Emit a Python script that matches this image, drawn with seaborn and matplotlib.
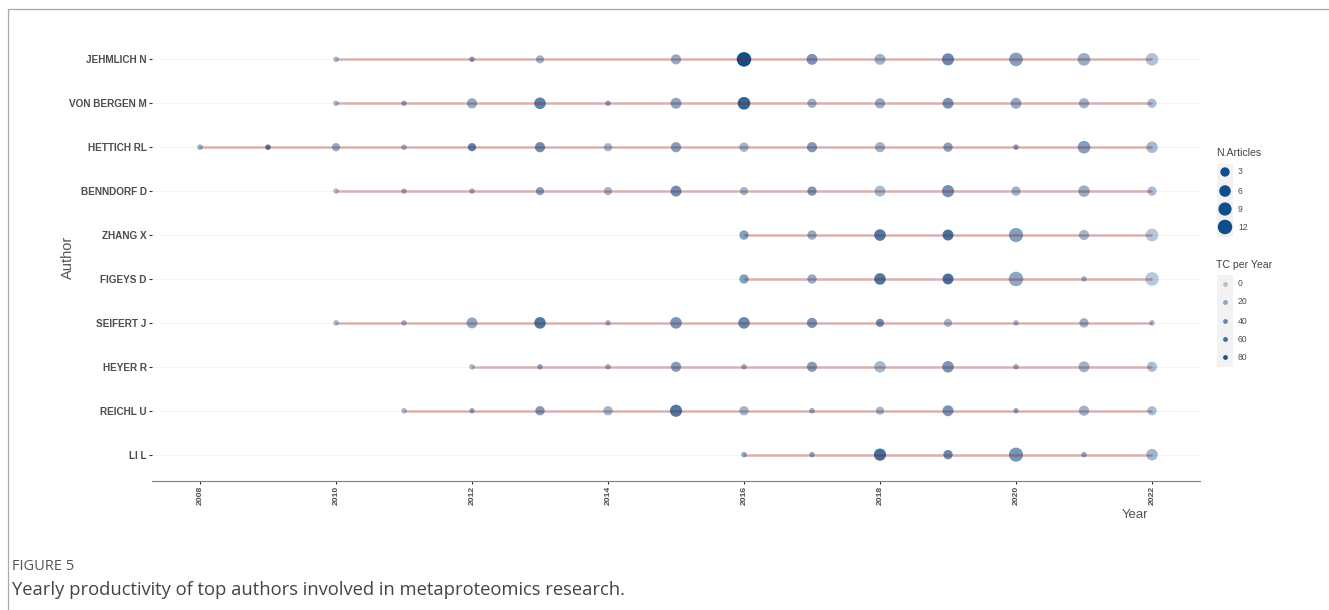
import numpy as np
import pandas as pd
import matplotlib
matplotlib.use("Agg")
import matplotlib.pyplot as plt
from matplotlib.colors import LinearSegmentedColormap, to_rgb
from matplotlib.patches import Rectangle
from matplotlib.lines import Line2D
import seaborn as sns

# ---- data -------------------------------------------------------------
authors = ["JEHMLICH N", "VON BERGEN M", "HETTICH RL", "BENNDORF D", "ZHANG X",
           "FIGEYS D", "SEIFERT J", "HEYER R", "REICHL U", "LI L"]

author_years = [
    [2010, 2012, 2013, 2015, 2016, 2017, 2018, 2019, 2020, 2021, 2022],
    [2010, 2011, 2012, 2013, 2014, 2015, 2016, 2017, 2018, 2019, 2020, 2021, 2022],
    [2008, 2009, 2010, 2011, 2012, 2013, 2014, 2015, 2016, 2017, 2018, 2019, 2020, 2021, 2022],
    [2010, 2011, 2012, 2013, 2014, 2015, 2016, 2017, 2018, 2019, 2020, 2021, 2022],
    [2016, 2017, 2018, 2019, 2020, 2021, 2022],
    [2016, 2017, 2018, 2019, 2020, 2021, 2022],
    [2010, 2011, 2012, 2013, 2014, 2015, 2016, 2017, 2018, 2019, 2020, 2021, 2022],
    [2012, 2013, 2014, 2015, 2016, 2017, 2018, 2019, 2020, 2021, 2022],
    [2011, 2012, 2013, 2014, 2015, 2016, 2017, 2018, 2019, 2020, 2021, 2022],
    [2016, 2017, 2018, 2019, 2020, 2021, 2022],
]

articles = [
    [1, 1, 2, 4, 12, 5, 5, 7, 10, 8, 8],
    [1, 1, 4, 6, 1, 5, 8, 3, 4, 5, 5, 4, 3],
    [1, 1, 2, 1, 2, 4, 2, 4, 3, 4, 4, 3, 1, 8, 6],
    [1, 1, 1, 2, 2, 5, 2, 3, 5, 7, 3, 6, 3],
    [3, 3, 6, 5, 11, 4, 8],
    [3, 3, 6, 5, 12, 1, 10],
    [1, 1, 5, 6, 1, 6, 6, 4, 2, 2, 1, 3, 1],
    [1, 1, 1, 4, 1, 4, 6, 6, 1, 5, 4],
    [1, 1, 3, 3, 7, 3, 1, 2, 5, 1, 4, 3],
    [1, 1, 7, 3, 11, 1, 6],
]

tc_per_year = [
    [12, 25, 15, 20, 85, 35, 15, 42, 28, 18, 4],
    [10, 20, 20, 48, 20, 25, 68, 15, 20, 35, 20, 15, 8],
    [20, 55, 20, 15, 50, 40, 12, 28, 15, 32, 15, 28, 25, 28, 10],
    [8, 15, 15, 28, 12, 40, 12, 32, 10, 38, 15, 18, 8],
    [28, 20, 55, 60, 28, 12, 2],
    [28, 20, 55, 60, 22, 15, 0],
    [12, 15, 22, 55, 15, 35, 42, 35, 40, 12, 12, 18, 12],
    [10, 22, 18, 30, 18, 30, 10, 35, 18, 15, 8],
    [12, 18, 30, 12, 55, 12, 18, 12, 35, 18, 15, 8],
    [25, 22, 62, 42, 35, 20, 12],
]

size_breaks = [3, 6, 9, 12]
tc_breaks = [0, 20, 40, 60, 80]
year_ticks = list(range(2008, 2023, 2))

# ---- tidy table -------------------------------------------------------
rows = []
for i, name in enumerate(authors):
    for yr, n, tc in zip(author_years[i], articles[i], tc_per_year[i]):
        rows.append({"Author": name, "row": i, "Year": yr, "N": n, "TC": tc})
df = pd.DataFrame(rows)

# ---- styling ----------------------------------------------------------
BLUE = "#104E8B"          # dodgerblue4
RED = "#8B1A1A"           # firebrick4
n_min, n_max = df["N"].min(), df["N"].max()
tc_min, tc_max = df["TC"].min(), df["TC"].max()


def marker_area(n):
    """Area-style scaling: diameter grows with sqrt of the rescaled count."""
    t = (n - n_min) / (n_max - n_min)
    size_mm = 2 + 4 * np.sqrt(t)
    d_px = 1.0 + 2.25 * size_mm
    return (d_px * 0.72) ** 2


def tc_alpha(tc):
    return 0.3 + 0.7 * (tc - tc_min) / (tc_max - tc_min)


rgb = to_rgb(BLUE)
alpha_cmap = LinearSegmentedColormap.from_list(
    "tc_alpha", [(*rgb, 0.3), (*rgb, 1.0)])

sns.set_theme(style="white")
plt.rcParams["font.family"] = ["Liberation Sans", "DejaVu Sans"]

W, H = 1329, 610
fig = plt.figure(figsize=(W / 100, H / 100), dpi=100)

# panel in pixel box: x 152..1200, y 33..481
ax = fig.add_axes([152 / W, 1 - 481 / H, 1048 / W, 448 / H])

# light horizontal guides per author
for i in range(len(authors)):
    ax.axhline(i, color="#EDEDED", lw=0.4, zorder=0)

sizes_map = {n: marker_area(n) for n in sorted(df["N"].unique())}
sns.scatterplot(data=df, x="Year", y="row", hue="TC", size="N",
                palette=alpha_cmap, hue_norm=(tc_min, tc_max),
                sizes=sizes_map, linewidth=0, edgecolor="none",
                legend=False, ax=ax, zorder=2)

# active span for each author
for i in range(len(authors)):
    ax.hlines(i, min(author_years[i]), max(author_years[i]),
              color=RED, alpha=0.3, lw=1.9, zorder=3)

ax.set_xlim(2008 - 0.706, 2022 + 0.706)
ax.set_ylim(len(authors) - 0.4, -0.6)
ax.set_yticks(range(len(authors)))
ax.set_yticklabels(authors, fontsize=7.2, fontweight="bold", color="#4D4D4D")
ax.set_xticks(year_ticks)
ax.set_xticklabels([str(y) for y in year_ticks], rotation=90, fontsize=6.1,
                   fontweight="bold", color="#4D4D4D")
ax.tick_params(axis="both", length=2.2, width=0.8, color="#333333", pad=1.5)
ax.tick_params(axis="y", left=True)
ax.tick_params(axis="x", bottom=True)
for s in ["top", "right", "left"]:
    ax.spines[s].set_visible(False)
ax.spines["bottom"].set_color("#7F7F7F")
ax.spines["bottom"].set_linewidth(0.8)
ax.set_xlabel("")
ax.set_ylabel("")
ax.grid(False)

# ---- overlay in pixel coordinates for titles, legend and frame ---------
ov = fig.add_axes([0, 0, 1, 1], facecolor="none")
ov.set_xlim(0, W)
ov.set_ylim(H, 0)
ov.axis("off")

ov.text(68, 257, "Author", rotation=90, ha="center", va="center",
        fontsize=10.5, color="#555555")
ov.text(1135, 515, "Year", ha="center", va="center", fontsize=9.5,
        color="#555555")

# frame lines
ov.add_line(Line2D([7.5, 7.5], [8.5, H + 5], color="#A8A8A8", lw=0.9))
ov.add_line(Line2D([7.5, W + 5], [8.5, 8.5], color="#A8A8A8", lw=0.9))

# legend: N.Articles
ov.text(1216, 153, "N.Articles", ha="left", va="center", fontsize=7.6,
        color="#444444")
ov.add_patch(Rectangle((1217, 164), 16, 73, facecolor="#F2F2F2",
                       edgecolor="none"))
key_y = [172, 191, 209, 227]
ov.scatter([1225] * len(size_breaks), key_y,
           s=[marker_area(n) for n in size_breaks], color=BLUE, linewidth=0)
for yk, lab in zip(key_y, size_breaks):
    ov.text(1238, yk, str(lab), ha="left", va="center", fontsize=6.2,
            color="#4D4D4D")

# legend: TC per Year
ov.text(1216, 265, "TC per Year", ha="left", va="center", fontsize=7.6,
        color="#444444")
ov.add_patch(Rectangle((1217, 275), 16, 92, facecolor="#F2F2F2",
                       edgecolor="none"))
tc_y = [284, 302, 321, 339, 357]
for yk, lab in zip(tc_y, tc_breaks):
    ov.scatter([1225], [yk], s=(4.8 * 0.72) ** 2, color=BLUE,
               alpha=tc_alpha(lab), linewidth=0)
    ov.text(1238, yk, str(lab), ha="left", va="center", fontsize=6.2,
            color="#4D4D4D")

# caption
ov.text(12, 567, "FIGURE 5", ha="left", va="center", fontsize=10.5,
        color="#555555", family=["Open Sans", "DejaVu Sans"])
ov.text(12, 590,
        "Yearly productivity of top authors involved in metaproteomics research.",
        ha="left", va="center", fontsize=13.2, color="#444444",
        family=["Open Sans", "DejaVu Sans"])

fig.savefig("out.png", dpi=100)
